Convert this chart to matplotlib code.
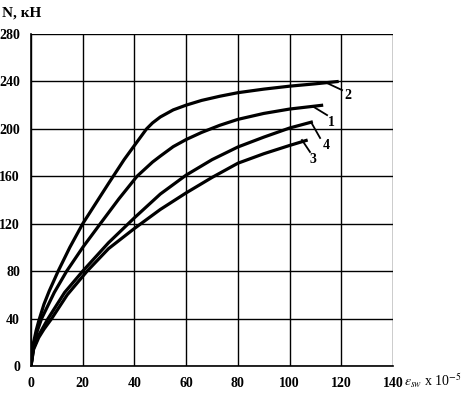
import matplotlib.pyplot as plt

plt.rcParams['font.family'] = ['Liberation Serif', 'DejaVu Serif']
plt.rcParams['mathtext.fontset'] = 'stix'

# curves (strain x 1e-5, force kN)
x1 = [0, 1, 2.5, 4.1, 9, 13.8, 20, 26.8, 34, 41, 47, 50, 55, 60, 66, 73, 80, 90, 100, 113]
y1 = [0, 18, 30, 40, 62, 80, 100, 120, 141, 160, 172, 177, 185, 191, 197, 203, 208, 213, 216.7, 220]

x2 = [0, 1, 2, 3, 5, 7, 10.5, 15, 20, 25, 30, 36, 40, 44.7, 47, 50, 55, 60, 66, 73, 80, 90, 100, 110, 119]
y2 = [0, 20, 30, 38, 52, 63, 80, 100, 120, 137, 154, 174, 186, 200, 205, 210, 216, 220, 224, 227.5, 230.5, 233.5, 236, 238, 240]

x3 = [0, 1, 3, 5, 8, 14, 21.7, 30, 40, 50, 60, 70, 80, 90, 100, 107]
y3 = [0, 14, 24, 31, 40, 60, 80, 99, 116, 132, 146, 159, 171, 179, 186, 190.6]

x4 = [0, 1, 3, 6.6, 13, 20, 30, 40, 50, 60, 70, 80, 90, 100, 109]
y4 = [0, 15, 26, 40, 62, 80, 104, 125, 145, 161, 174, 184.7, 193, 200.7, 206]

labels = ['1', '2', '3', '4']
label_pos = [(116, 205.7), (122.6, 228.5), (109, 174.5), (114, 186)]
leaders = [((109.4, 218.4), (114.5, 211.6)),
           ((114.5, 238.6), (120.3, 232.7)),
           ((104.8, 190.6), (107.9, 180.5)),
           ((108.3, 205.7), (111.8, 192.3))]

xticks = [0, 20, 40, 60, 80, 100, 120, 140]
yticks = [0, 40, 80, 120, 160, 200, 240, 280]

fig = plt.figure(figsize=(4.62, 3.95), dpi=100)
ax = fig.add_axes([31/462, 29/395, 362/462, 332/395])

for xs, ys in [(x1, y1), (x2, y2), (x3, y3), (x4, y4)]:
    ax.plot(xs, ys, color='black', lw=2.3, solid_capstyle='butt', zorder=3)

for lab, (tx, ty), (p0, p1) in zip(labels, label_pos, leaders):
    ax.plot([p0[0], p1[0]], [p0[1], p1[1]], color='black', lw=1.3, clip_on=False)
    ax.text(tx, ty, lab, fontsize=10, fontweight='bold', ha='center', va='center')

ax.set_xlim(0, 140)
ax.set_ylim(0, 280)
ax.set_xticks(xticks)
ax.set_yticks(yticks)
ax.grid(True, color='black', lw=1)
ax.tick_params(length=0, labelsize=10, pad=8)
for lbl in ax.get_xticklabels() + ax.get_yticklabels():
    lbl.set_fontweight('bold')
for s in ['top', 'right']:
    ax.spines[s].set_visible(False)
for s in ['left', 'bottom']:
    ax.spines[s].set_linewidth(1.2)

fig.text(2/462, 1 - 13/395, 'N, кН', fontsize=11, fontweight='bold', va='center')
fig.text(404/462, 1 - 381/395, r'$\varepsilon_{sw}$ x 10$^{-5}$', fontsize=10, va='center')

fig.savefig('out.png', dpi=100)
